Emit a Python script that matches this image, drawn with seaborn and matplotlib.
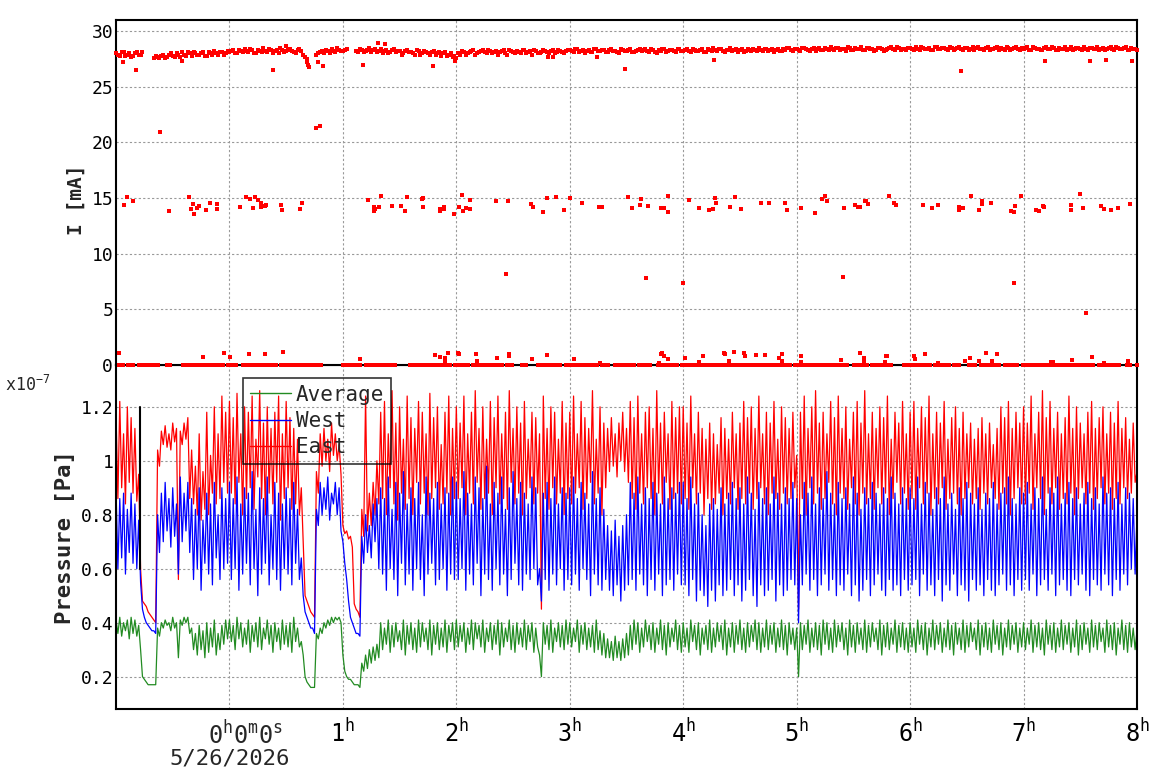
import matplotlib
matplotlib.use("Agg")
import matplotlib.pyplot as plt
import matplotlib.transforms as mtransforms
from matplotlib.lines import Line2D
from matplotlib.ticker import FixedLocator, FuncFormatter, MultipleLocator
import numpy as np
import pandas as pd
import seaborn as sns

# time axis in hours from 0h0m0s (5/26/2026), one sample every minute
T_START = -1.0
T_STEP = 1 / 60

# vacuum pressure, units of 1e-9 Pa (axis shows x10^-7 Pa), one row per hour.
# the traces flicker every minute: *_peak are the even-minute tops,
# *_trough the odd-minute bottoms in between.
east_peak = [
    118, 122, 110, 120, 116, 112, 95, 48, 46, 43, 41, 104, 111, 113, 110, 114, 112, 111, 114, 116,
    104, 98, 110, 96, 118, 102, 120, 110, 124, 118,
    122, 116, 125, 110, 120, 118, 124, 108, 126, 114, 120, 112, 118, 124, 110, 122, 116, 112, 108, 90,
    50, 46, 43, 96, 110, 112, 108, 114, 110, 106,
    76, 74, 72, 47, 44, 82, 124, 88, 92, 100, 118, 122, 110, 126, 114, 120, 108, 124, 116, 112,
    122, 118, 110, 125, 116, 120, 106, 118, 124, 112,
    120, 114, 124, 110, 118, 126, 112, 120, 108, 122, 116, 124, 110, 118, 126, 112, 120, 114, 122, 108,
    118, 116, 110, 124, 112, 120, 118, 108, 122, 114,
    118, 124, 110, 122, 116, 112, 126, 108, 120, 114, 112, 116, 110, 114, 118, 112, 122, 116, 124, 110,
    118, 120, 112, 126, 114, 118, 110, 122, 116, 120,
    120, 114, 124, 110, 118, 112, 108, 114, 110, 106, 116, 112, 108, 118, 110, 114, 122, 116, 120, 112,
    124, 110, 118, 114, 122, 108, 120, 116, 112, 118,
    102, 118, 124, 112, 120, 126, 114, 118, 110, 122, 116, 124, 112, 120, 108, 118, 122, 114, 126, 110,
    118, 112, 120, 116, 124, 108, 118, 114, 122, 110,
    118, 122, 112, 120, 116, 124, 110, 118, 114, 122, 108, 116, 120, 112, 118, 110, 114, 108, 112, 116,
    110, 114, 106, 112, 120, 116, 122, 112, 118, 114,
    120, 114, 124, 110, 118, 126, 116, 122, 112, 118, 110, 116, 124, 112, 120, 114, 110, 118, 122, 112,
    116, 120, 110, 118, 114, 122, 112, 116, 108, 114, 96,
]
east_trough = [
    86, 90, 84, 92, 88, 85, 60, 47, 44, 42, 40, 98, 106, 105, 104, 107, 56, 106, 108, 86,
    84, 80, 78, 82, 80, 88, 84, 86, 92, 88,
    88, 84, 92, 80, 86, 90, 82, 94, 86, 80, 88, 84, 92, 78, 86, 90, 82, 84, 80, 70,
    48, 44, 42, 88, 98, 100, 96, 102, 100, 95,
    73, 71, 68, 45, 42, 72, 74, 76, 80, 84, 86, 80, 90, 84, 78, 88, 82, 86, 80, 92,
    84, 88, 80, 86, 90, 82, 84, 88, 80, 86,
    86, 90, 80, 88, 84, 92, 82, 86, 88, 80, 90, 84, 86, 82, 92, 84, 88, 80, 86, 90,
    84, 88, 45, 86, 82, 90, 84, 88, 80, 86,
    84, 88, 90, 82, 86, 92, 84, 88, 80, 90, 96, 98, 94, 100, 96, 92, 86, 82, 88, 84,
    90, 86, 80, 88, 84, 92, 82, 86, 88, 84,
    86, 82, 90, 84, 88, 80, 86, 82, 84, 88, 80, 86, 84, 90, 82, 86, 84, 88, 82, 86,
    90, 84, 80, 88, 86, 82, 88, 84, 86, 90,
    45, 86, 80, 90, 84, 88, 82, 86, 92, 84, 80, 88, 86, 82, 90, 84, 80, 88, 84, 86,
    82, 90, 84, 88, 80, 86, 92, 84, 88, 82,
    86, 82, 90, 84, 88, 80, 86, 84, 90, 82, 86, 88, 84, 80, 86, 90, 84, 86, 82, 88,
    84, 90, 86, 82, 88, 84, 80, 86, 90, 84,
    84, 88, 82, 90, 86, 80, 88, 84, 90, 82, 86, 84, 88, 80, 86, 90, 84, 88, 82, 86,
    90, 84, 88, 82, 86, 84, 90, 86, 88, 92,
]
west_peak = [
    90, 86, 88, 82, 88, 84, 78, 45, 40, 38, 37, 80, 88, 92, 86, 90, 84, 94, 88, 92,
    86, 82, 90, 78, 88, 84, 92, 80, 90, 86,
    92, 86, 94, 84, 90, 88, 96, 82, 90, 86, 94, 80, 92, 88, 84, 90, 86, 92, 82, 64,
    44, 40, 38, 82, 92, 90, 94, 88, 92, 90,
    70, 56, 42, 38, 36, 72, 80, 76, 84, 86, 90, 86, 94, 82, 92, 88, 96, 84, 90, 86,
    92, 80, 94, 88, 86, 92, 84, 90, 88, 94,
    92, 86, 96, 88, 84, 94, 90, 86, 98, 84, 92, 88, 94, 82, 90, 96, 86, 92, 88, 84,
    94, 90, 60, 88, 92, 86, 94, 84, 90, 88,
    90, 94, 86, 92, 88, 84, 96, 86, 90, 82, 76, 74, 78, 72, 76, 80, 92, 88, 94, 84,
    90, 86, 92, 88, 84, 94, 86, 90, 88, 92,
    92, 86, 94, 84, 88, 80, 76, 84, 86, 82, 90, 84, 88, 92, 86, 90, 84, 94, 88, 82,
    92, 86, 90, 84, 94, 88, 84, 90, 86, 92,
    86, 80, 92, 88, 94, 84, 90, 86, 96, 88, 84, 92, 86, 90, 84, 94, 88, 82, 90, 86,
    92, 88, 84, 90, 86, 94, 88, 84, 90, 86,
    90, 86, 94, 84, 92, 88, 82, 90, 86, 94, 84, 88, 82, 90, 86, 92, 88, 84, 90, 82,
    88, 86, 92, 84, 88, 90, 94, 86, 84, 90,
    88, 92, 84, 90, 86, 94, 82, 90, 88, 94, 84, 88, 92, 86, 90, 84, 88, 92, 86, 90,
    84, 94, 88, 90, 86, 92, 84, 90, 88, 86, 80,
]
west_trough = [
    60, 64, 58, 66, 62, 60, 55, 42, 39, 37, 36, 66, 70, 74, 68, 72, 58, 70, 74, 66,
    56, 60, 52, 62, 58, 54, 64, 56, 60, 62,
    56, 60, 52, 58, 62, 54, 60, 50, 58, 62, 54, 60, 56, 52, 60, 58, 54, 62, 56, 50,
    42, 38, 36, 76, 80, 82, 78, 84, 80, 74,
    62, 48, 40, 36, 35, 62, 66, 64, 70, 60, 58, 52, 60, 56, 50, 62, 54, 58, 52, 60,
    56, 50, 58, 62, 54, 56, 60, 52, 58, 56,
    56, 60, 52, 58, 54, 62, 50, 58, 56, 52, 60, 54, 58, 50, 56, 62, 54, 52, 58, 56,
    60, 54, 48, 56, 52, 58, 54, 60, 52, 56,
    54, 58, 52, 60, 56, 50, 58, 54, 52, 56, 52, 50, 54, 48, 52, 54, 56, 52, 58, 54,
    50, 56, 52, 58, 50, 54, 56, 52, 58, 54,
    54, 50, 56, 48, 52, 50, 46, 52, 48, 54, 50, 52, 56, 50, 54, 48, 52, 56, 50, 46,
    54, 50, 52, 56, 48, 54, 50, 52, 56, 54,
    40, 54, 58, 52, 56, 50, 54, 58, 52, 56, 50, 54, 52, 58, 50, 54, 48, 52, 56, 50,
    54, 58, 52, 50, 56, 52, 54, 50, 56, 52,
    54, 56, 50, 58, 52, 54, 50, 56, 48, 54, 52, 58, 50, 54, 52, 48, 56, 52, 54, 50,
    56, 52, 50, 54, 58, 52, 54, 50, 56, 52,
    56, 52, 58, 50, 54, 56, 52, 58, 50, 54, 56, 52, 50, 56, 54, 58, 52, 50, 56, 54,
    52, 58, 54, 50, 56, 52, 58, 54, 60, 58,
]
average_peak = [
    41, 42, 40, 41, 42, 41, 39, 20, 18, 17, 17, 38, 40, 41, 40, 42, 40, 41, 42, 42,
    38, 36, 39, 37, 40, 38, 41, 36, 39, 41,
    41, 39, 42, 40, 38, 41, 39, 40, 42, 38, 41, 39, 40, 38, 41, 39, 40, 42, 38, 33,
    20, 17, 16, 36, 38, 40, 41, 42, 42, 42,
    28, 20, 19, 17, 17, 25, 28, 30, 31, 32, 40, 38, 41, 39, 40, 37, 41, 39, 40, 38,
    41, 40, 38, 41, 39, 40, 38, 41, 39, 40,
    41, 39, 40, 38, 41, 40, 39, 41, 38, 40, 39, 41, 40, 38, 41, 39, 40, 38, 41, 39,
    40, 38, 28, 40, 39, 41, 38, 40, 39, 41,
    40, 38, 41, 39, 40, 38, 39, 41, 37, 36, 34, 33, 35, 33, 34, 36, 39, 41, 40, 38,
    41, 39, 40, 38, 41, 39, 40, 38, 41, 39,
    40, 38, 41, 39, 40, 38, 39, 41, 38, 40, 39, 41, 38, 40, 39, 41, 38, 40, 39, 41,
    40, 38, 41, 39, 40, 38, 41, 39, 40, 38,
    38, 40, 39, 41, 38, 40, 39, 41, 40, 38, 41, 39, 40, 38, 41, 39, 40, 38, 41, 39,
    40, 38, 41, 39, 40, 38, 41, 39, 40, 38,
    40, 38, 41, 39, 40, 38, 41, 39, 40, 38, 41, 39, 40, 38, 41, 39, 40, 38, 41, 39,
    40, 38, 41, 39, 40, 38, 41, 39, 40, 38,
    40, 38, 41, 39, 40, 38, 41, 39, 40, 38, 41, 39, 40, 38, 41, 39, 40, 38, 41, 39,
    40, 38, 41, 39, 40, 38, 41, 39, 40, 38, 37,
]
average_trough = [
    36, 35, 37, 34, 36, 35, 30, 19, 17, 17, 17, 35, 38, 39, 37, 38, 27, 39, 40, 36,
    30, 28, 30, 27, 29, 31, 28, 30, 32, 34,
    33, 30, 34, 31, 32, 29, 33, 31, 30, 34, 32, 29, 33, 30, 32, 31, 29, 33, 31, 28,
    18, 16, 16, 34, 36, 38, 39, 40, 41, 40,
    22, 19, 18, 17, 16, 22, 23, 25, 26, 27, 30, 32, 29, 31, 33, 30, 28, 32, 30, 29,
    31, 33, 30, 28, 32, 30, 31, 29, 33, 30,
    31, 33, 29, 32, 30, 34, 31, 29, 33, 30, 32, 28, 31, 33, 30, 29, 32, 31, 30, 33,
    29, 31, 20, 32, 30, 29, 33, 31, 30, 32,
    31, 33, 29, 32, 30, 31, 29, 30, 28, 27, 27, 26, 27, 26, 27, 28, 30, 32, 29, 31,
    33, 30, 29, 32, 30, 28, 31, 33, 30, 29,
    31, 29, 33, 30, 28, 32, 30, 29, 31, 33, 30, 28, 31, 29, 32, 30, 29, 31, 33, 30,
    29, 31, 30, 32, 29, 31, 30, 28, 32, 30,
    20, 30, 32, 29, 31, 30, 28, 32, 30, 29, 31, 33, 30, 28, 31, 29, 32, 30, 29, 31,
    33, 30, 28, 31, 30, 32, 29, 31, 30, 29,
    31, 29, 32, 30, 28, 31, 30, 32, 29, 31, 30, 28, 32, 30, 29, 31, 33, 30, 28, 31,
    30, 29, 32, 30, 28, 31, 30, 32, 29, 31,
    30, 32, 29, 31, 30, 28, 32, 30, 29, 31, 30, 32, 29, 31, 28, 30, 32, 29, 31, 30,
    33, 29, 31, 30, 28, 32, 30, 29, 31, 30,
]

# beam current band, units of 0.1 mA, even and odd minutes (None = no reading)
beam_even = [
    280, 278, 281, 279, 277, 280, 279, 281, None, None, 276, 277, 278, 276, 279, 278, 280, 277, 279, 281,
    278, 280, 279, 281, 278, 280, 282, 279, 281, 280,
    281, 283, 280, 282, 284, 281, 283, 280, 282, 285, 281, 283, 282, 280, 283, 282, 284, 281, 283, 282,
    277, 268, None, 279, 281, 280, 282, 284, 281, 283,
    282, 284, None, None, 281, 283, 282, 285, 283, 281, 284, 282, 280, 283, 281, 282, 280, 283, 281, 279,
    282, 280, 281, 279, 282, 280, 278, 281, 279, 277,
    276, 279, 281, 280, 282, 279, 281, 283, 280, 282, 281, 279, 282, 280, 283, 281, 282, 280, 283, 281,
    279, 282, 280, 283, 281, 282, 280, 283, 281, 282,
    283, 281, 284, 282, 280, 283, 281, 284, 282, 283, 281, 284, 282, 280, 283, 282, 284, 281, 283, 282,
    284, 281, 283, 280, 282, 284, 282, 283, 281, 284,
    282, 284, 281, 283, 282, 284, 281, 283, 285, 282, 284, 281, 283, 282, 284, 283, 281, 284, 282, 283,
    285, 282, 284, 283, 281, 284, 282, 283, 285, 282,
    284, 282, 285, 283, 284, 282, 285, 283, 284, 286, 283, 285, 284, 282, 285, 283, 284, 286, 283, 285,
    284, 283, 285, 282, 284, 286, 283, 285, 284, 283,
    285, 283, 284, 286, 284, 285, 283, 286, 284, 285, 283, 285, 284, 286, 283, 285, 284, 283, 286, 284,
    285, 283, 284, 286, 285, 283, 285, 284, 286, 283,
    284, 286, 283, 285, 284, 283, 286, 284, 285, 283, 284, 286, 284, 283, 285, 284, 286, 283, 285, 284,
    283, 285, 284, 286, 283, 285, 284, 286, 283, 284, 283,
]
beam_odd = [
    279, 281, 278, 280, 278, 281, 279, None, None, None, 278, 276, 279, 277, 280, 277, 279, 281, 278, 280,
    281, 279, 280, 278, 281, 279, 280, 281, 279, 282,
    282, 280, 283, 281, 282, 284, 280, 283, 281, 282, 284, 280, 283, 285, 281, 283, 282, 280, 284, 279,
    272, None, None, 280, 282, 283, 280, 282, 285, 282,
    283, None, None, 282, 284, 281, 283, 281, 284, 282, 280, 283, 281, 284, 282, 279, 282, 281, 280, 283,
    279, 282, 280, 281, 279, 281, 280, 278, 280, 278,
    280, 282, 279, 281, 283, 280, 282, 281, 283, 280, 282, 281, 283, 279, 282, 280, 281, 283, 280, 282,
    283, 280, 281, 282, 280, 283, 281, 282, 280, 283,
    282, 284, 281, 283, 282, 281, 284, 282, 283, 281, 283, 282, 281, 284, 282, 283, 281, 282, 284, 283,
    282, 284, 281, 283, 284, 281, 283, 282, 284, 282,
    283, 282, 284, 282, 283, 281, 284, 282, 283, 284, 282, 283, 285, 283, 281, 284, 282, 283, 284, 282,
    283, 284, 282, 284, 283, 282, 284, 285, 283, 284,
    283, 285, 284, 282, 285, 284, 283, 285, 283, 284, 285, 283, 284, 286, 283, 285, 284, 283, 285, 284,
    282, 285, 284, 283, 285, 284, 286, 283, 284, 285,
    284, 286, 283, 285, 284, 283, 286, 284, 285, 284, 286, 283, 285, 284, 285, 283, 286, 285, 284, 283,
    286, 284, 285, 283, 284, 286, 283, 285, 284, 285,
    285, 283, 286, 284, 283, 285, 284, 286, 283, 285, 284, 283, 286, 284, 285, 283, 284, 285, 284, 286,
    284, 283, 285, 284, 286, 284, 285, 283, 285, 284,
]

# stretches (hours) where the current read exactly 0 mA
zero_runs = [
    (-0.971, -0.935), (-0.891, -0.853), (-0.794, -0.633), (-0.547, -0.524), (-0.406, -0.059),
    (-0.009, 0.058), (0.123, 0.299), (0.323, 0.343), (0.378, 0.408), (0.452, 0.549),
    (0.564, 0.769), (0.793, 0.811), (1.005, 1.152), (1.205, 1.460), (1.593, 1.710),
    (1.734, 1.842), (1.857, 1.880), (1.915, 1.944), (1.989, 2.027), (2.063, 2.107),
    (2.151, 2.180), (2.195, 2.224), (2.239, 2.401), (2.445, 2.489), (2.577, 2.615),
    (2.724, 2.915), (2.968, 3.062), (3.097, 3.238), (3.283, 3.341), (3.400, 3.518),
    (3.497, 3.562), (3.606, 3.709), (3.774, 3.812), (3.827, 3.944), (3.988, 4.076),
    (4.115, 4.150), (4.173, 4.297), (4.326, 4.379), (4.391, 4.429), (4.438, 4.479),
    (4.503, 4.561), (4.585, 4.605), (4.644, 4.708), (4.729, 4.773), (4.782, 4.811),
    (4.841, 4.879), (4.905, 4.944), (4.988, 5.032), (5.055, 5.076), (5.096, 5.126),
    (5.143, 5.208), (5.223, 5.282), (5.296, 5.326), (5.361, 5.443), (5.502, 5.531),
    (5.555, 5.620), (5.667, 5.722), (5.761, 5.831), (5.943, 5.967), (5.990, 6.031),
    (6.055, 6.143), (6.155, 6.178), (6.222, 6.340), (6.390, 6.428), (6.516, 6.575),
    (6.628, 6.687), (6.707, 6.737), (6.751, 6.781), (6.840, 6.907), (6.919, 6.942),
    (6.995, 7.236), (7.260, 7.289), (7.310, 7.354), (7.383, 7.516), (7.545, 7.613),
    (7.663, 7.686), (7.701, 7.721), (7.751, 7.780), (7.795, 7.845), (7.913, 7.942),
    (8.0, 8.0),
]

# isolated current readings off the main band (hour, mA)
spot_t = [
    -0.94, -0.82, -0.42, 0.385, 0.496, 0.68, 0.69, 0.70, 0.78, 0.825, 1.18, 1.31, 1.37, 1.795,
    1.99, 2.81, 2.85, 3.24, 3.49, 4.27, 6.45, 7.19, 7.59, 7.73, 7.96,
    -0.61, 0.76, 0.80,
    -0.93, -0.90, -0.85, -0.53, -0.354, -0.336, -0.318, -0.31, -0.283, -0.265, -0.204, -0.168,
    -0.107, -0.107, 0.096, 0.149, 0.184, 0.211, 0.228, 0.255, 0.28, 0.28, 0.317, 0.325, 0.458,
    0.466, 0.625, 0.643, 1.225, 1.27, 1.278, 1.287, 1.322, 1.34, 1.437, 1.515, 1.551, 1.569,
    1.70, 1.71, 1.71, 1.86, 1.86, 1.895, 1.895, 1.983, 2.027, 2.054, 2.062, 2.089, 2.124, 2.124,
    2.353, 2.459, 2.66, 2.68, 2.76, 2.795, 2.88, 2.95, 3.006, 3.11, 3.26, 3.28, 3.51, 3.545,
    3.62, 3.63, 3.69, 3.80, 3.83, 3.87, 3.87, 4.047, 4.135, 4.23, 4.26, 4.28, 4.29, 4.41,
    4.455, 4.51, 4.69, 4.76, 4.90, 4.917, 5.038, 5.16, 5.22, 5.247, 5.265, 5.413, 5.51, 5.54,
    5.56, 5.60, 5.61, 5.63, 5.81, 5.86, 5.88, 6.11, 6.196, 6.25, 6.43, 6.43, 6.466, 6.54,
    6.61, 6.63, 6.63, 6.716, 6.886, 6.916, 6.925, 6.978, 7.11, 7.133, 7.17, 7.18, 7.42, 7.42,
    7.50, 7.52, 7.68, 7.71, 7.77, 7.83, 7.94,
    2.44, 3.674, 3.994, 5.405, 6.916, 7.55,
    -0.97, -0.23, -0.045, 0.008, 0.175, 0.317, 0.475, 1.155, 1.816, 1.86, 1.90, 1.90, 1.93,
    2.015, 2.02, 2.177, 2.186, 2.357, 2.468, 2.468, 2.67, 2.795, 3.033, 3.27, 3.79, 3.80, 3.815,
    3.83, 3.87, 4.02, 4.14, 4.17, 4.36, 4.37, 4.40, 4.45, 4.54, 4.545, 4.64, 4.72, 4.84, 4.87,
    4.87, 5.04, 5.04, 5.39, 5.56, 5.59, 5.595, 5.78, 5.79, 5.80, 6.03, 6.04, 6.13, 6.25, 6.48,
    6.53, 6.61, 6.67, 6.72, 6.77, 7.24, 7.26, 7.43, 7.60, 7.71, 7.92,
]
spot_v = [
    27.2, 26.5, 27.3, 26.5, 28.7, 27.5, 27.0, 26.8, 27.2, 26.9, 27.0, 28.9, 28.8, 26.9,
    27.3, 27.7, 27.7, 27.7, 26.6, 27.4, 26.4, 27.3, 27.3, 27.4, 27.3,
    20.9, 21.3, 21.5,
    14.36, 15.06, 14.7, 13.85, 15.06, 14.05, 14.5, 13.6, 14.15, 14.33, 13.96, 14.6,
    14.5, 14.05, 14.24, 15.06, 14.88, 14.15, 15.06, 14.79, 14.6, 14.24, 14.33, 14.42, 14.42,
    13.96, 14.05, 14.6, 14.79, 13.87, 14.24, 14.05, 14.24, 15.15, 14.33, 14.33, 13.87, 15.06,
    14.88, 14.97, 14.24, 14.05, 13.87, 14.24, 14.05, 13.6, 14.24, 15.24, 13.87, 14.15, 14.79, 14.05,
    14.7, 14.7, 14.5, 14.24, 13.78, 14.97, 15.06, 13.96, 14.97, 14.6, 14.24, 14.24, 15.06, 14.15,
    14.42, 14.9, 14.33, 14.15, 14.15, 13.78, 15.15, 14.79, 14.15, 13.96, 14.05, 14.97, 14.6, 14.24,
    15.06, 14.05, 14.6, 14.6, 14.6, 13.96, 14.15, 13.69, 14.88, 15.15, 14.7, 14.15, 14.42, 14.24,
    14.24, 14.7, 14.7, 14.5, 15.15, 14.6, 14.42, 14.42, 14.15, 14.42, 14.24, 13.96, 14.15, 15.15,
    13.96, 14.7, 14.5, 14.6, 13.87, 13.78, 14.33, 15.15, 13.96, 13.87, 14.33, 14.24, 14.42, 13.96,
    15.33, 14.1, 14.33, 14.05, 13.96, 14.15, 14.5,
    8.19, 7.83, 7.38, 7.92, 7.38, 4.67,
    1.06, 0.7, 1.06, 0.7, 0.96, 1.0, 1.15, 0.51, 0.87, 0.7, 0.6, 0.33, 1.06,
    1.06, 0.96, 0.96, 0.33, 0.6, 0.96, 0.78, 0.51, 0.87, 0.51, 0.15, 0.15, 0.96, 1.06,
    0.78, 0.51, 0.6, 0.24, 0.78, 1.06, 0.96, 0.33, 1.15, 1.06, 0.78, 0.87, 0.87, 0.6, 0.96,
    0.33, 0.78, 0.24, 0.42, 1.06, 0.33, 0.6, 0.24, 0.78, 0.78, 0.78, 0.51, 0.96, 0.15, 0.33,
    0.6, 0.33, 1.06, 0.33, 0.96, 0.24, 0.24, 0.42, 0.7, 0.15, 0.33,
]

RED, BLUE, GREEN = "#ff0000", "#0000ff", "#228b22"


def weave(even, odd):
    """Merge even-minute and odd-minute readings into one time-ordered series."""
    out = np.empty(len(even) + len(odd))
    out[0::2] = np.array(even, dtype=float)
    out[1::2] = np.array(odd, dtype=float)
    return out


sns.set_theme(style="white")
plt.rcParams["font.family"] = ["DejaVu Sans Mono"]
plt.rcParams["mathtext.fontset"] = "custom"
plt.rcParams["mathtext.rm"] = "DejaVu Sans Mono"
plt.rcParams["mathtext.it"] = "DejaVu Sans Mono"
plt.rcParams["axes.edgecolor"] = "black"
plt.rcParams["xtick.color"] = "black"
plt.rcParams["ytick.color"] = "black"

W, H = 1158, 782
fig = plt.figure(figsize=(W / 100, H / 100), dpi=100)
left, right = 116 / W, 1137 / W
ax1 = fig.add_axes([left, 1 - 365 / H, right - left, (365 - 20) / H])
ax2 = fig.add_axes([left, 1 - 709 / H, right - left, (709 - 365) / H])
ax1.set_zorder(2)  # zero-current markers sit on top of the shared border

# --- top: beam current -------------------------------------------------
beam = weave(beam_even, beam_odd) / 10
t = T_START + np.arange(len(beam)) * T_STEP
zero_t = np.concatenate([np.append(np.arange(a, b, 0.02), b) for a, b in zero_runs])

cur = pd.DataFrame({
    "t": np.concatenate([t, zero_t, spot_t]),
    "I": np.concatenate([beam, np.zeros(len(zero_t)), spot_v]),
}).dropna()
sns.scatterplot(data=cur, x="t", y="I", ax=ax1, color=RED, marker="s", s=9,
                linewidth=0, clip_on=False, zorder=3)

# --- bottom: pressure --------------------------------------------------
press = pd.concat([
    pd.DataFrame({"t": t, "p": weave(pk, tr) / 100, "gauge": name})
    for name, pk, tr in [("East", east_peak, east_trough),
                         ("West", west_peak, west_trough),
                         ("Average", average_peak, average_trough)]
])
sns.lineplot(data=press, x="t", y="p", hue="gauge", hue_order=["East", "West", "Average"],
             palette={"East": RED, "West": BLUE, "Average": GREEN},
             estimator=None, sort=False, lw=0.9, legend=False, ax=ax2)

# --- axes styling ------------------------------------------------------
fmt = FuncFormatter(lambda v, _: f"{v:g}")
grid_kw = dict(color="#999999", linestyle=(0, (2, 2)), linewidth=0.8)
for ax in (ax1, ax2):
    ax.set_xlim(-1, 8)
    ax.set_xlabel("")
    ax.grid(True, **grid_kw)
    ax.xaxis.set_major_locator(FixedLocator(range(0, 9)))
    ax.xaxis.set_minor_locator(MultipleLocator(1 / 3))
    ax.yaxis.set_major_formatter(fmt)
    for s in ax.spines.values():
        s.set_linewidth(1.5)
        s.set_color("black")
    ax.tick_params(axis="y", which="major", direction="in", length=17, width=1.5,
                   labelsize=13, pad=2)
    ax.tick_params(axis="y", which="minor", direction="in", length=6.5, width=1.5)
    ax.set_axisbelow(True)

ax1.set_ylim(0, 31)
ax1.yaxis.set_major_locator(MultipleLocator(5))
ax1.yaxis.set_minor_locator(MultipleLocator(1))
ax1.tick_params(axis="x", which="major", direction="in", length=12, width=1.5, labelbottom=False)
ax1.tick_params(axis="x", which="minor", direction="in", length=5, width=1.5)
ax1.set_ylabel("I [mA]", fontsize=14, fontweight="bold")
ax1.yaxis.set_label_coords(-0.03, 0.48)

ax2.set_ylim(0.08, 1.355)
ax2.yaxis.set_major_locator(MultipleLocator(0.2))
ax2.yaxis.set_minor_locator(MultipleLocator(0.05))
ax2.tick_params(axis="x", which="major", direction="in", length=14, width=1.5,
                labelsize=17, pad=7)
ax2.tick_params(axis="x", which="minor", direction="in", length=7, width=1.5)
ax2.set_xticklabels([""] + [rf"${h}^{{\mathrm{{h}}}}$" for h in range(1, 9)])
ax2.set_ylabel("Pressure [Pa]", fontsize=16, fontweight="bold")
ax2.yaxis.set_label_coords(-0.04, 0.5)

# time-offset label and date under the origin, as ROOT draws it
xt = mtransforms.blended_transform_factory(ax2.transData, ax2.transAxes)
ax2.text(0.138, -0.035, r"$0^{\mathrm{h}}0^{\mathrm{m}}0^{\mathrm{s}}$", transform=xt,
         ha="center", va="top", fontsize=17)
ax2.text(0.0, -0.115, "5/26/2026", transform=xt, ha="center", va="top", fontsize=16)

# extra axis stroke left by the frame between 0.6 and 1.2
yt = mtransforms.blended_transform_factory(ax2.transAxes, ax2.transData)
ax2.plot([0.0235, 0.0235], [0.6, 1.2], transform=yt, color="black", lw=1.5)

fig.text(5 / W, 1 - 385 / H, r"x10$^{\mathrm{-7}}$", fontsize=12, va="center", ha="left")

handles = [Line2D([], [], color=GREEN, lw=1), Line2D([], [], color=BLUE, lw=1),
           Line2D([], [], color=RED, lw=1)]
leg = ax2.legend(handles, ["Average", "West", "East"], loc="upper left",
                 bbox_to_anchor=(0.1244, 0.962), borderaxespad=0, fontsize=15,
                 handlelength=2, handletextpad=0.2, labelspacing=0.3, borderpad=0.32,
                 fancybox=False, framealpha=None, facecolor="none", edgecolor="black")
leg.get_frame().set_linewidth(1.2)

fig.savefig("out.png", dpi=100)
